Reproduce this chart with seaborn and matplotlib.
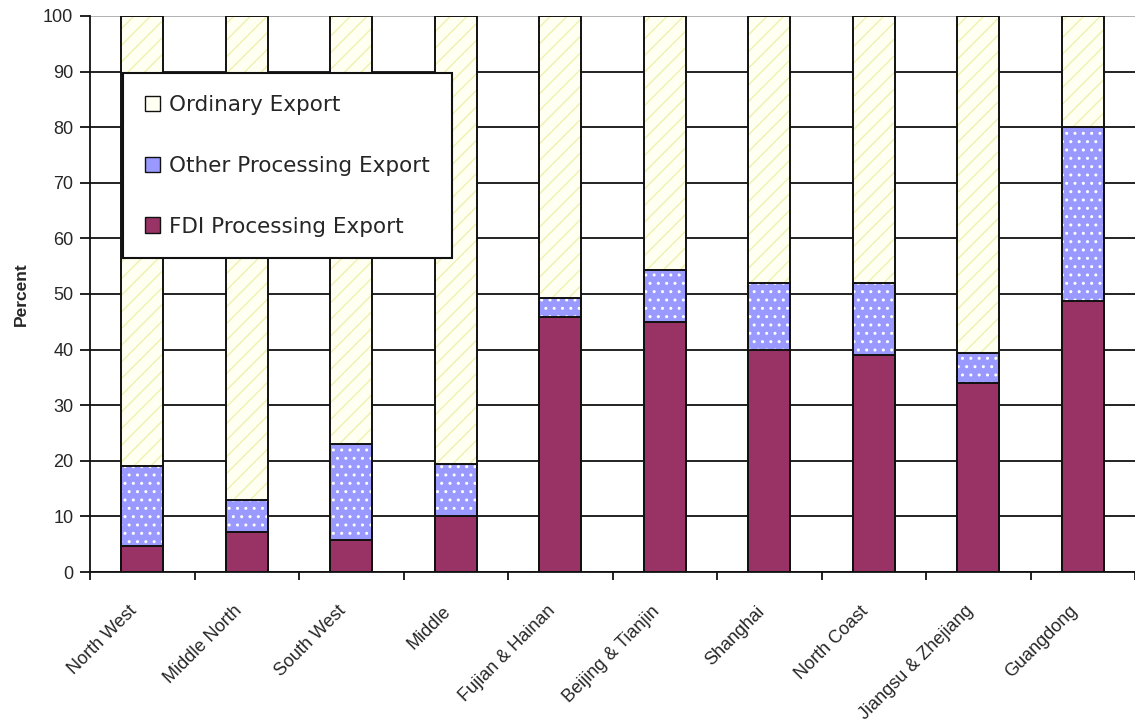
import numpy as np
import matplotlib
matplotlib.use("Agg")
import pandas as pd
import matplotlib.pyplot as plt
from matplotlib.patches import Patch
import seaborn as sns

regions = ["North West", "Middle North", "South West", "Middle", "Fujian & Hainan",
           "Beijing & Tianjin", "Shanghai", "North Coast", "Jiangsu & Zhejiang", "Guangdong"]
fdi_processing = [4.7, 7.2, 5.8, 10.0, 45.8, 45.0, 40.0, 39.0, 34.0, 48.7]
other_processing = [14.4, 5.8, 17.2, 9.5, 3.5, 9.3, 12.0, 13.0, 5.3, 31.3]
ordinary = [100 - a - b for a, b in zip(fdi_processing, other_processing)]

sns.set_style("white")
plt.rcParams['font.family'] = ['Liberation Sans', 'DejaVu Sans']
plt.rcParams['hatch.linewidth'] = 1.0

df = pd.DataFrame({'region': regions,
                   'fdi': fdi_processing,
                   'other': other_processing,
                   'ordinary': ordinary})
df['fdi_other'] = df['fdi'] + df['other']
df['total'] = df['fdi_other'] + df['ordinary']

fig = plt.figure(figsize=(11.35, 7.25), dpi=100)
ax = fig.add_axes([0.0793, 0.211, 0.9207, 0.767])

# fills (tallest first so the stack shows through)
layers = [('total', '#FFFFF2', '#F0F0B0', '//'),
          ('fdi_other', '#9999FF', '#FFFFFF', '..'),
          ('fdi', '#993366', '#993366', None)]
for col, face, hcol, hatch in layers:
    sns.barplot(data=df, x='region', y=col, color=face, saturation=1,
                width=0.4, linewidth=0, edgecolor=hcol, hatch=hatch,
                errorbar=None, ax=ax, zorder=2)
# outlines
for col, face, hcol, hatch in layers:
    sns.barplot(data=df, x='region', y=col, fill=False, width=0.4,
                linewidth=1.4, edgecolor='#111111', errorbar=None, ax=ax, zorder=3)

ax.set_xlim(-0.5, 9.5)
ax.set_ylim(0, 100)
ax.set_yticks(np.arange(0, 101, 10))
ax.yaxis.grid(True, color='#111111', linewidth=1.3, zorder=0)
ax.set_axisbelow(True)
for t in ax.get_ygridlines()[-1:]:
    t.set_color('#aaaaaa')
ax.spines['right'].set_visible(False)
ax.spines['top'].set_visible(False)
ax.spines['left'].set_color('#111111')
ax.spines['bottom'].set_color('#111111')
ax.spines['left'].set_linewidth(1.3)
ax.spines['bottom'].set_linewidth(1.3)

# labels sit a little left of the bar centres, like the original
ax.set_xticks(np.arange(10) - 0.13)
ax.set_xticklabels(regions, rotation=45, ha='right', rotation_mode='anchor', fontsize=13)
ax.set_xticks(np.arange(-0.5, 10, 1), minor=True)
ax.tick_params(axis='x', which='major', length=0, pad=22)
ax.tick_params(axis='x', which='minor', length=6, width=1.3, color='#111111', direction='out', bottom=True)
ax.tick_params(axis='y', length=7, width=1.3, color='#111111', direction='out', left=True,
               labelsize=13, pad=5)
ax.set_xlabel('')
ax.set_ylabel('Percent', fontsize=12.5, fontweight='bold', labelpad=10)

handles = [Patch(facecolor='#FFFFF2', edgecolor='#111111', label='Ordinary Export'),
           Patch(facecolor='#9999FF', edgecolor='#111111', label='Other Processing Export'),
           Patch(facecolor='#993366', edgecolor='#111111', label='FDI Processing Export')]
leg = ax.legend(handles=handles, loc='upper left', bbox_to_anchor=(0.0316, 0.897),
                prop={'family': 'DejaVu Sans', 'size': 15.5}, frameon=True, fancybox=False,
                framealpha=1, borderpad=1.0, labelspacing=1.9, handlelength=0.7,
                handleheight=0.7, handletextpad=0.45, borderaxespad=0)
leg.get_frame().set_edgecolor('#111111')
leg.get_frame().set_linewidth(1.5)
leg.set_zorder(5)

plt.savefig("out.png", dpi=100)
